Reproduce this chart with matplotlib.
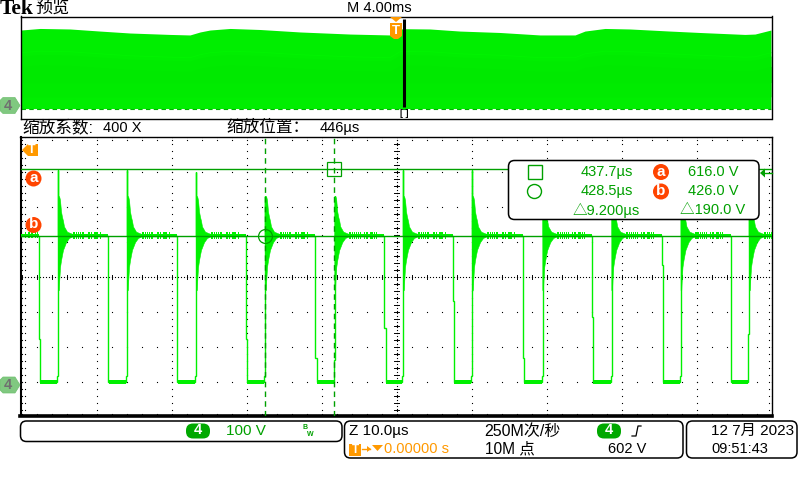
import numpy as np
import matplotlib
matplotlib.use("Agg")
import matplotlib.pyplot as plt
from matplotlib.patches import FancyBboxPatch, Circle, Polygon, Rectangle

plt.rcParams['font.family'] = ['Liberation Sans', 'Noto Sans CJK SC', 'DejaVu Sans']

# ---------- data ----------
overview_ms = [0, 1.01, 2.61, 4.21, 5.81, 7.95, 9.01, 9.55, 10.08, 11.15, 12.75, 14.88, 17.55, 19.68,
               20.21, 20.48, 21.81, 23.41, 25.55, 27.68, 29.55, 30.08, 31.15, 32.48, 34.61, 36.21,
               38.61, 39.15, 40]
overview_top = [596, 608, 604, 588, 573, 562, 558, 581, 596, 608, 600, 581, 565, 558,
                604, 606, 604, 588, 577, 558, 558, 588, 608, 604, 588, 577, 562, 565, 596]
overview_bottom_v = -8
trigger_ms = 20.44

falls_us = [398.35, 407.55, 416.75, 425.95, 435.17, 444.37, 453.55, 462.88, 472.08, 481.33, 490.61]
rises_us = [400.88, 410.08, 419.28, 428.48, 437.71, 446.88, 456.08, 465.44, 474.64, 483.87, 493.01]
fall_kink_v = [130, 8, 8, 130, 76, 162, 238, 76, 193, 342, 8]
rise_kink_v = [25, 25, 25, 25, 70, 25, 25, 25, 25, 25, 145]
peak_v = [613, 613, 607, 540, 540, 613, 613, 540, 540, 540, 540]
high_v = 426
low_v = 7
spike_off_up = [-0.02, 0.07, 0.15, 0.23, 0.36, 0.49, 0.63, 0.76, 1.16, 1.83]
spike_up_v = [539, 539, 535, 527, 495, 480, 468, 452, 437, 431]
spike_off_lo = [-0.02, 0.07, 0.13, 0.23, 0.36, 0.49, 0.63, 0.76, 1.03, 1.43, 1.83]
spike_lo_v = [270, 270, 300, 336, 355, 370, 385, 392, 407, 419, 423]
bump_off_us = [1.9, 2.1, 2.35, 2.6, 2.85, 3.1, 3.35, 3.9, 4.15, 4.3, 4.7, 4.85, 5.0, 5.2, 5.5]
cursor_t_us = [437.7, 428.5]
cursor_v = [616.0, 426.0]

readouts = [("437.7µs", 633, 172), ("428.5µs", 633, 191), ("△9.200µs", 640, 210),
            ("616.0 V", 739, 172), ("426.0 V", 739, 191), ("△190.0 V", 745, 210)]

GREEN = "#00F000"
DARK = "#00A000"
ORANGE = "#FF9900"
RED = "#FF4400"

fig = plt.figure(figsize=(8, 4.8), dpi=100)
W, H = 800.0, 480.0


def axes_px(x0, y0, x1, y1, **kw):
    return fig.add_axes([x0 / W, 1 - y1 / H, (x1 - x0) / W, (y1 - y0) / H], **kw)


# ---------- overview ----------
ov = axes_px(20.5, 16.5, 771.5, 119)
ov.set_xlim(-0.03, 40.03)
ov.set_ylim(-88.5, 700)
top = np.array(overview_top, float)
ov.fill_between(overview_ms, overview_bottom_v, top, color="#00EE00", lw=0)
ov.fill_between(overview_ms, overview_bottom_v + 90, top - 200, color="#00EB00", lw=0)
ov.fill_between(overview_ms, overview_bottom_v + 200, top - 280, color="#00E900", lw=0)
ov.plot(overview_ms, top - 175, color="#00F400", lw=0.6)
ov.plot([0, 40], [overview_bottom_v] * 2, color="#00B000", lw=0.8, ls=(0, (4, 3)))
ov.plot([trigger_ms] * 2, [5, 680], color="black", lw=2.2, solid_capstyle="butt")
ov.set_xticks([])
ov.set_yticks([])
for s in ov.spines.values():
    s.set_linewidth(1)

# ---------- main ----------
ax = axes_px(20.5, 136.5, 771.8, 416)
ax.set_xlim(395.84, 496.01)
ax.set_ylim(-89.7, 708.9)
ax.set_xticks([])
ax.set_yticks([])
ax.spines["left"].set_linewidth(1.5)
ax.spines["top"].set_linewidth(1)
ax.spines["right"].set_linewidth(1)
ax.spines["bottom"].set_linewidth(2.6)

CY = 307.4
dot = dict(ls="none", marker="s", ms=0.8, mew=0, color="black", zorder=1)
xs = np.arange(396, 496.1, 2)
ys = np.arange(CY - 400, CY + 401, 20)
for k in range(-3, 5):
    ax.plot(xs, np.full_like(xs, CY + k * 100), **dot)
for t in np.arange(396, 497, 10):
    ax.plot(np.full_like(ys, t), ys, **dot)
ax.plot(np.arange(396, 496, 0.4), np.full(250, CY), **dot)
cy_dense = np.arange(CY - 400, CY + 401, 8)
ax.plot(np.full_like(cy_dense, 446), cy_dense, **dot)
for t in xs:
    ax.plot([t, t], [CY - 6, CY + 6], color="black", lw=0.7, zorder=1)
for v in ys:
    ax.plot([445.7, 446.3], [v, v], color="black", lw=0.7, zorder=1)
ax.plot(np.full_like(ys, 396.4), ys, **dot)
ax.plot(np.full_like(ys, 495.6), ys, **dot)
ax.plot(xs, np.full_like(xs, 700), **dot)
ax.plot(xs, np.full_like(xs, -85), **dot)

# waveform
tx, ty = [395.84], [high_v]
for f, r, fk, rk, p in zip(falls_us, rises_us, fall_kink_v, rise_kink_v, peak_v):
    tx += [f, f, f + 0.15, f + 0.15, r - 0.12, r - 0.12, r, r, r]
    ty += [high_v, fk, fk, low_v, low_v, rk, rk, p, high_v]
tx.append(496.01)
ty.append(high_v)
ax.plot(tx, ty, color=GREEN, lw=1.0, zorder=3, solid_joinstyle="miter")

up_off = np.array(spike_off_up)
lo_off = np.array(spike_off_lo)
for i, (f, r) in enumerate(zip(falls_us, rises_us)):
    ax.fill_between(r + up_off, high_v, spike_up_v, color=GREEN, lw=0.4, zorder=3)
    ax.fill_between(r + lo_off, high_v, spike_lo_v, color=GREEN, lw=0.4, zorder=3)
    ax.fill_between([f + 0.15, r - 0.12], 1, 13, color=GREEN, lw=0, zorder=3)
    nf = falls_us[i + 1] if i + 1 < len(falls_us) else 496.01
    ax.fill_between([r + 1.6, nf], 423, 430, color=GREEN, lw=0, zorder=3)
    for b in bump_off_us:
        if r + b < nf:
            ax.fill_between([r + b, r + b + 0.14], 417, 436, color=GREEN, lw=0, zorder=3)
ax.fill_between([395.84, falls_us[0]], 423, 430, color=GREEN, lw=0, zorder=3)
for b in [396.4, 396.9, 397.3, 397.8, 398.0]:
    ax.fill_between([b, b + 0.14], 420, 437, color=GREEN, lw=0, zorder=3)

# cursors
for v in cursor_v:
    ax.axhline(v, color=DARK, lw=1.0, zorder=4)
for t in cursor_t_us:
    ax.axvline(t, color=DARK, lw=1.0, ls=(0, (4, 3)), zorder=4)
ax.plot(cursor_t_us[0], cursor_v[0], marker="s", ms=10, mfc="none", mec=DARK, mew=0.9, zorder=5)
ax.plot(cursor_t_us[1], cursor_v[1], marker="o", ms=10, mfc="none", mec=DARK, mew=0.9, zorder=5)

# ---------- overlay in pixels ----------
ui = fig.add_axes([0, 0, 1, 1], zorder=10)
ui.set_xlim(0, W)
ui.set_ylim(H, 0)
ui.axis("off")
ui.patch.set_alpha(0)


def txt(x, y, s, size=10, color="black", ha="left", **kw):
    ui.text(x, y, s, fontsize=size, color=color, ha=ha, va="center", **kw)


def rbox(x0, y0, x1, y1, r=6, fc="white", ec="black", lw=1.1):
    ui.add_patch(FancyBboxPatch((x0 + r, y0 + r), x1 - x0 - 2 * r, y1 - y0 - 2 * r,
                                boxstyle=f"round,pad={r},rounding_size={r}", fc=fc, ec=ec, lw=lw))


def ch4(y):
    ui.add_patch(Polygon([[0, y - 5], [3, y - 8], [15, y - 8], [20, y], [15, y + 8], [3, y + 8], [0, y + 5]],
                         closed=True, fc="#80C880", ec="#70C070", lw=0.5))
    txt(8, y, "4", size=10.5, color="#707070", ha="center", fontweight="bold")


def badge(x, y, s):
    ui.add_patch(Circle((x, y), 8, fc=RED, ec="none"))
    txt(x, y - 0.5, s, size=11, color="white", ha="center", fontweight="bold")


def pill(x, y):
    ui.add_patch(FancyBboxPatch((x - 6, y - 1.5), 12, 3, boxstyle="round,pad=6,rounding_size=7",
                                fc="#00A800", ec="none"))
    txt(x, y - 0.5, "4", size=10.5, color="white", ha="center", fontweight="bold")


def trig_t(x, y):
    ui.add_patch(Polygon([[x - 6, y - 8], [x + 6, y - 8], [x + 6, y + 5], [x + 2, y + 8], [x - 2, y + 8], [x - 6, y + 5]],
                         closed=True, fc=ORANGE, ec="none"))
    txt(x, y, "T", size=9.5, color="white", ha="center", fontweight="bold")


txt(0, 9, "Tek", size=15.5, family="Liberation Serif", fontweight="bold")
txt(35, 8, "预览", size=12.3, family="Noto Sans CJK SC", fontweight="light")
txt(379, 8, "M 4.00ms", size=10.5, ha="center")
ui.add_patch(Polygon([[390, 17], [402, 17], [396, 22]], closed=True, fc=ORANGE, ec="none"))
trig_t(396, 31)
txt(404, 113, "[ ]", size=6.5, ha="center", fontweight="bold")
ch4(105.5)
ch4(385)
txt(22, 127.5, "缩放系数:", size=12, fontweight="light")
txt(103, 128, "400 X", size=10.5)
txt(226, 127.5, "缩放位置：", size=12, fontweight="light")
txt(320, 128, "446µs", size=10.5)

# trigger marker main
ui.add_patch(Polygon([[22, 150], [28, 144], [38, 144], [38, 156], [28, 156]], closed=True, fc=ORANGE, ec="none"))
txt(32, 150, "T", size=9, color="white", ha="center", fontweight="bold")
badge(33.5, 178.5, "a")
badge(33.5, 225, "b")
ui.add_patch(Polygon([[760, 173], [765, 168.5], [765, 177.5]], closed=True, fc=DARK, ec="none"))
ui.plot([765, 772], [173, 173], color=DARK, lw=1)

# readout box
rbox(508.5, 160.5, 759, 219.5, r=6)
ui.add_patch(Rectangle((527.5, 164.5), 14, 14, fc="none", ec=DARK, lw=1))
ui.add_patch(Circle((534.5, 191.5), 7, fc="none", ec=DARK, lw=1))
badge(661, 172, "a")
badge(661, 191.5, "b")
for s, x, y in readouts:
    txt(x, y, s, size=10.5, color=DARK, ha="right", fontweight="light")

# bottom boxes
rbox(20.5, 421, 342, 441.5, r=6)
rbox(344.5, 421, 683, 458, r=6)
rbox(686.5, 421, 797, 458, r=6)
pill(198, 431)
txt(245.5, 431, "100 V", size=11, color=DARK, ha="center")
txt(305, 427.5, "B", size=5, color=DARK, ha="center", fontweight="bold")
txt(310.5, 435, "W", size=5, color=DARK, ha="center", fontweight="bold")
txt(349, 431, "Z 10.0µs", size=11)
ui.add_patch(Rectangle((349, 444), 12, 12, fc=ORANGE, ec="none"))
txt(355, 450, "T", size=8.5, color="white", ha="center", fontweight="bold")
ui.plot([362, 370], [449, 449], color=ORANGE, lw=1)
ui.add_patch(Polygon([[371, 449], [367, 446], [367, 452]], closed=True, fc=ORANGE, ec="none"))
ui.add_patch(Polygon([[372, 445], [383, 445], [377.5, 451]], closed=True, fc=ORANGE, ec="none"))
txt(383.5, 449, "0.00000 s", size=10.5, color=ORANGE)
txt(484, 431, "250M次/秒", size=11.5)
txt(485, 449, "10M 点", size=11.2)
pill(609, 431)
ui.plot([632, 636, 638, 641], [436, 436, 426, 426], color="black", lw=0.9)
txt(608, 449, "602 V", size=10.5)
txt(711, 431, "12 7月 2023", size=11)
txt(711, 449, "09:51:43", size=10.5)

fig.savefig("out.png", dpi=100)
